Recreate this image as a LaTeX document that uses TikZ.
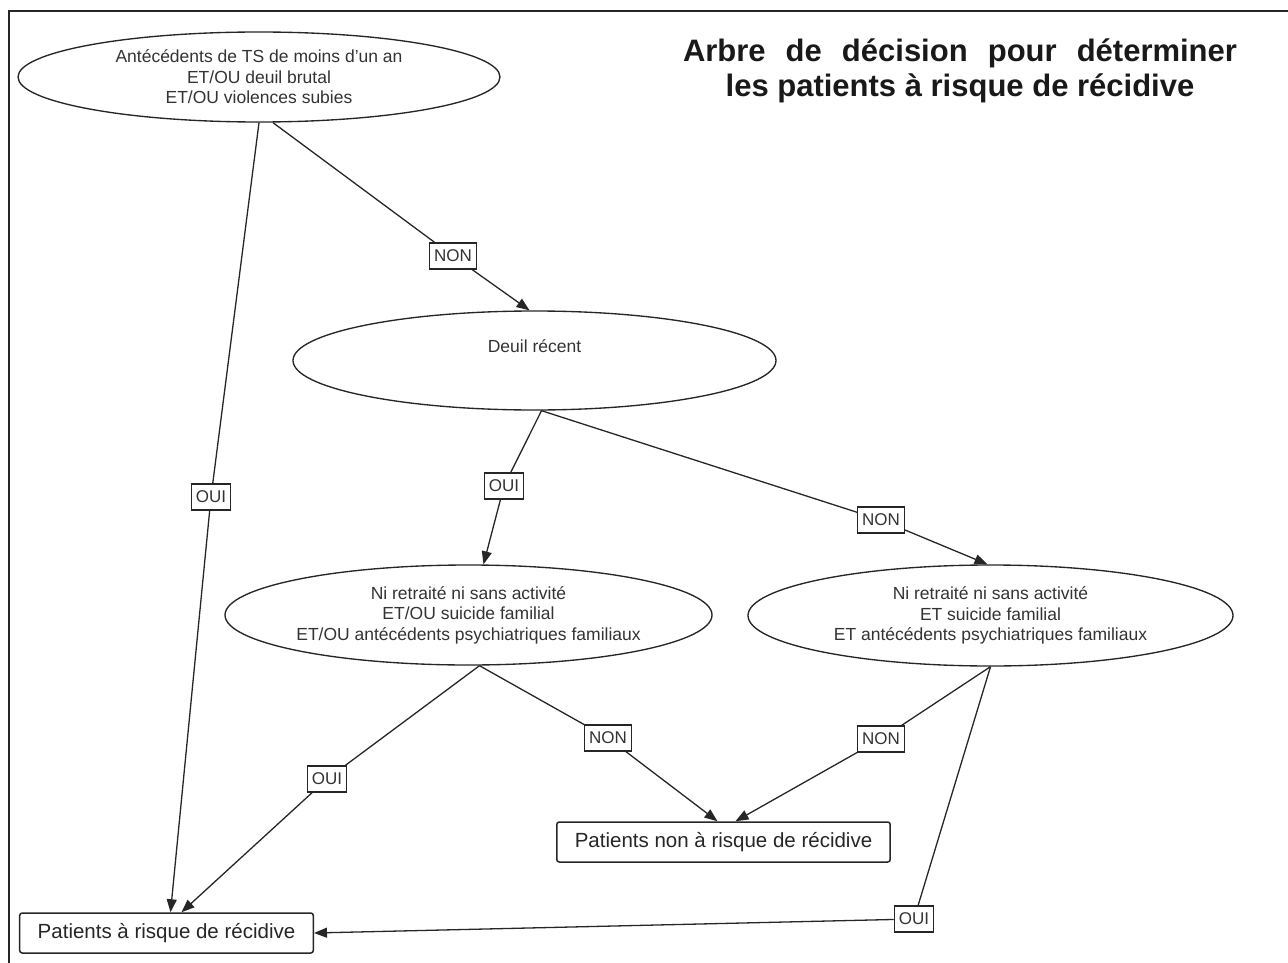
\documentclass[tikz,border=0pt]{standalone}
\usepackage{fontspec}
\setmainfont{Liberation Sans}
\usetikzlibrary{shapes.geometric,arrows.meta,calc}
\begin{document}
\begin{tikzpicture}[x=1pt,y=-1pt,
 decision/.style={ellipse, draw=black!85, line width=1.35pt, inner sep=0pt, align=center, text=black!80, font=\fontsize{17.5}{20.5}\selectfont},
 result/.style={rectangle, rounded corners=2.5pt, draw=black!85, line width=1.5pt, inner xsep=18pt, inner ysep=0pt, minimum height=40pt, text=black!85, font=\fontsize{20.5}{24}\selectfont},
 tag/.style={rectangle, draw=black!85, line width=1.3pt, fill=white, inner xsep=4.5pt, inner ysep=0pt, minimum height=26pt, text=black!80, font=\fontsize{17}{20}\selectfont},
 link/.style={draw=black!85, line width=1.3pt},
 arrow/.style={link, -{Triangle[length=13pt,width=10pt]}},
]
\useasboundingbox (0,0) rectangle (1288,963);
\draw[line width=2.8pt, black!85] (9,963) -- (9,11) -- (1288,11);

\node[font=\fontsize{31}{35}\selectfont\bfseries, align=center, text=black!90] (title) at (960,71)
  {\makebox[554pt][s]{Arbre de décision pour déterminer}\\les patients à risque de récidive};

\node[decision, minimum width=482pt, minimum height=90pt] (e1) at (259,77)
  {Antécédents de TS de moins d'un an\\ET/OU deuil brutal\\ET/OU violences subies};
\node[decision, minimum width=483pt, minimum height=99pt] (e2) at (534.5,360.5)
  {\raisebox{8pt}[0pt][0pt]{Deuil récent}};
\node[decision, minimum width=487pt, minimum height=100pt] (e3) at (468.5,615)
  {Ni retraité ni sans activité\\ET/OU suicide familial\\ET/OU antécédents psychiatriques familiaux};
\node[decision, minimum width=485pt, minimum height=101pt] (e4) at (990.5,615.5)
  {Ni retraité ni sans activité\\ET suicide familial\\ET antécédents psychiatriques familiaux};

\node[result] (risk) at (166.5,933) {Patients à risque de récidive};
\node[result] (safe) at (723.5,842) {Patients non à risque de récidive};

\node[tag] (non1) at (453,256) {NON};
\node[tag] (oui1) at (211,497) {OUI};
\node[tag] (oui2) at (504,486) {OUI};
\node[tag] (non2) at (881,520) {NON};
\node[tag] (oui3) at (327,779) {OUI};
\node[tag] (non3) at (608,738) {NON};
\node[tag] (non4) at (881,739) {NON};
\node[tag] (oui4) at (914,919) {OUI};

\draw[link] ($(e1.south)+(14,0)$) -- (non1);
\draw[arrow] (non1) -- ($(e2.north)+(-5,0)$);
\draw[link] (e1.south) -- (oui1);
\draw[arrow] (oui1) -- ($(risk.north)+(4,0)$);
\draw[link] ($(e2.south)+(7,0)$) -- (oui2);
\draw[arrow] (oui2) -- ($(e3.north)+(15,0)$);
\draw[link] ($(e2.south)+(7,0)$) -- (non2);
\draw[arrow] (non2) -- ($(e4.north)+(-3,0)$);
\draw[link] ($(e3.south)+(11,0)$) -- (oui3);
\draw[arrow] (oui3) -- ($(risk.north)+(15,0)$);
\draw[link] ($(e3.south)+(11,0)$) -- (non3);
\draw[arrow] (non3) -- ($(safe.north)+(-6,0)$);
\draw[link] (e4.south) -- (non4);
\draw[arrow] (non4) -- ($(safe.north)+(12,0)$);
\draw[link] (e4.south) -- (oui4);
\draw[arrow] (oui4) -- (risk.east);
\end{tikzpicture}
\end{document}
